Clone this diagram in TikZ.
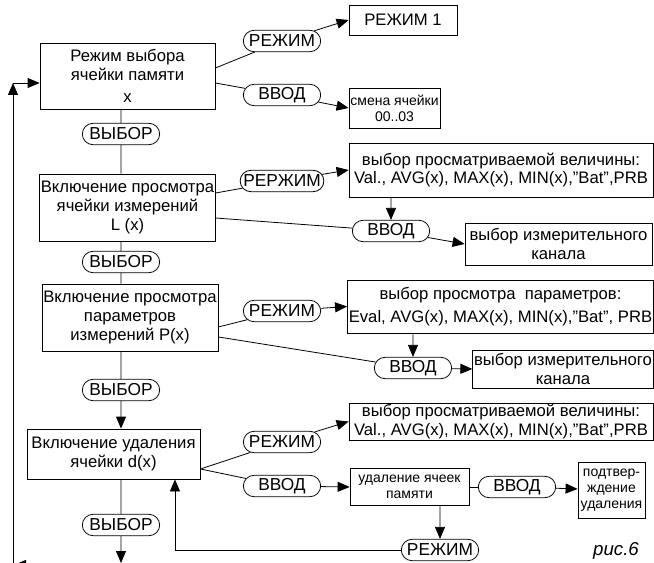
\documentclass[tikz,border=0pt]{standalone}
\usepackage{fontspec}
\setmainfont{Liberation Sans}
\usetikzlibrary{arrows.meta, shapes.misc}

\begin{document}
\begin{tikzpicture}[
    x=0.75pt, y=-0.75pt,
    line width=0.6pt,
    font=\fontsize{12.5}{14}\selectfont,
    block/.style={draw, align=center, inner sep=1pt},
    small/.style={font=\fontsize{10.5}{12}\selectfont},
    key/.style={draw, rounded rectangle, minimum width=60pt, minimum height=16pt, inner sep=1pt, font=\fontsize{13}{14}\selectfont},
    arr/.style={-{Triangle[length=9pt,width=7.5pt]}}
  ]
  \useasboundingbox (0,0) rectangle (654,563);

  \begin{scope}[every node/.style={block}]
    % left column
    \node [minimum width=131.25pt, minimum height=49.5pt] (mode) at (127.5,76) {Режим выбора\\ячейки памяти\\[3pt]x};
    \node [minimum width=131.25pt, minimum height=50.25pt] (cell) at (127.5,207.5) {Включение просмотра\\ячейки измерений\\L (x)};
    \node [minimum width=127.5pt, minimum height=50.25pt] (param) at (130,317.5) {Включение просмотра\\параметров\\измерений P(x)};
    \node [minimum width=129.75pt, minimum height=37.5pt] (erase) at (113.5,454) {Включение удаления\\ячейки d(x)};
    % right column
    \node [minimum width=81pt, minimum height=22.5pt] (mode1) at (403,20) {РЕЖИМ 1};
    \node [small, minimum width=68.25pt, minimum height=30pt] (swap) at (394.5,108) {смена ячейки\\00..03};
    \node [minimum width=228pt, minimum height=40.5pt] (value1) at (501,170) {выбор просматриваемой величины:\\Val., AVG(x), MAX(x), MIN(x),”Bat”,PRB};
    \node [minimum width=140.25pt, minimum height=31.5pt] (chan1) at (558.5,244) {выбор измерительного\\канала};
    \node [minimum width=228.75pt, minimum height=39.75pt] (pview) at (500.5,306.5) {выбор просмотра\ \ параметров:\\[3pt]Eval, AVG(x), MAX(x), MIN(x),”Bat”, PRB};
    \node [minimum width=135pt, minimum height=28.5pt] (chan2) at (563,369) {выбор измерительного\\канала};
    \node [minimum width=228pt, minimum height=27.75pt] (value2) at (501,421.5) {выбор просматриваемой величины:\\Val., AVG(x), MAX(x), MIN(x),”Bat”,PRB};
    \node [small, minimum width=89.25pt, minimum height=27.75pt] (drop) at (409.5,487) {удаление ячеек\\памяти};
    \node [small, minimum width=50.25pt, minimum height=42pt, inner sep=0pt] (confirm) at (611.5,490) {подтвер-\\ждение\\удаления};
  \end{scope}

  \begin{scope}[every node/.style={key}]
    \node (sel1) at (121,134) {ВЫБОР};
    \node (sel2) at (121,262) {ВЫБОР};
    \node (sel3) at (121,390) {ВЫБОР};
    \node (sel4) at (121,525) {ВЫБОР};
    \node (rm1) at (282,41) {РЕЖИМ};
    \node (in1) at (282,95) {ВВОД};
    \node (rm2) at (282,181) {РЕРЖИМ};
    \node (in2) at (391,231) {ВВОД};
    \node (rm3) at (282,311) {РЕЖИМ};
    \node (in3) at (413,368) {ВВОД};
    \node (rm4) at (282,442) {РЕЖИМ};
    \node (in4) at (282,486) {ВВОД};
    \node (in5) at (517,487) {ВВОД};
    \node (rm5) at (440,550) {РЕЖИМ};
  \end{scope}

  \node [font=\fontsize{14}{14}\selectfont\itshape] (fig) at (616,551) {рис.6};

  % main column
  \draw (sel1 |- mode.south) -- (sel1);
  \draw (sel1) -- (sel1 |- cell.north);
  \draw (sel2 |- cell.south) -- (sel2);
  \draw (sel2) -- (sel2 |- param.north);
  \draw (sel3 |- param.south) -- (sel3);
  \draw [arr] (sel3) -- (sel3 |- erase.north);
  \draw (sel4 |- erase.south) -- (sel4);

  \coordinate (down) at (121,563);
  \coordinate (backr) at (121,565);
  \coordinate (backl) at (14,565);
  \coordinate (upl) at (13,563);
  \coordinate (topl) at (13,83);
  \draw [arr] (sel4) -- (down);
  \draw [arr] (backr) -- (backl);
  \draw [arr] (upl) -- (topl);
  \draw [arr] (topl) -- (mode.west |- topl);

  % branches
  \draw ([yshift=6pt]mode.east) -- (rm1);
  \draw ([yshift=-5.25pt]mode.east) -- (in1);
  \draw [arr] (rm1) -- (mode1.west);
  \draw [arr] (in1) -- (swap.west);

  \draw ([yshift=10.9pt]cell.east) -- (rm2);
  \draw ([yshift=-7.9pt]cell.east) -- (in2);
  \draw [arr] (rm2) -- (value1.west);
  \draw [arr] (in2 |- value1.south) -- (in2);
  \draw [arr] (in2) -- (chan1.west);

  \draw ([yshift=-7.1pt]param.east) -- (rm3);
  \draw ([yshift=-14.6pt]param.east) -- (in3);
  \draw [arr] (rm3) -- (pview.west);
  \draw [arr] (in3 |- pview.south) -- (in3);
  \draw [arr] (in3) -- (chan2.west);

  \draw ([yshift=-11.25pt]erase.east) -- (rm4);
  \draw ([yshift=-11.25pt]erase.east) -- (in4);
  \draw [arr] (rm4) -- (value2.west);
  \draw [arr] (in4) -- (drop.west);
  \draw (drop) -- (in5);
  \draw [arr] (in5) -- (confirm);
  \draw [arr] (rm5 |- drop.south) -- (rm5);
  \draw [arr] (rm5.west) -| ([xshift=46.1pt]erase.south);

\end{tikzpicture}
\end{document}
